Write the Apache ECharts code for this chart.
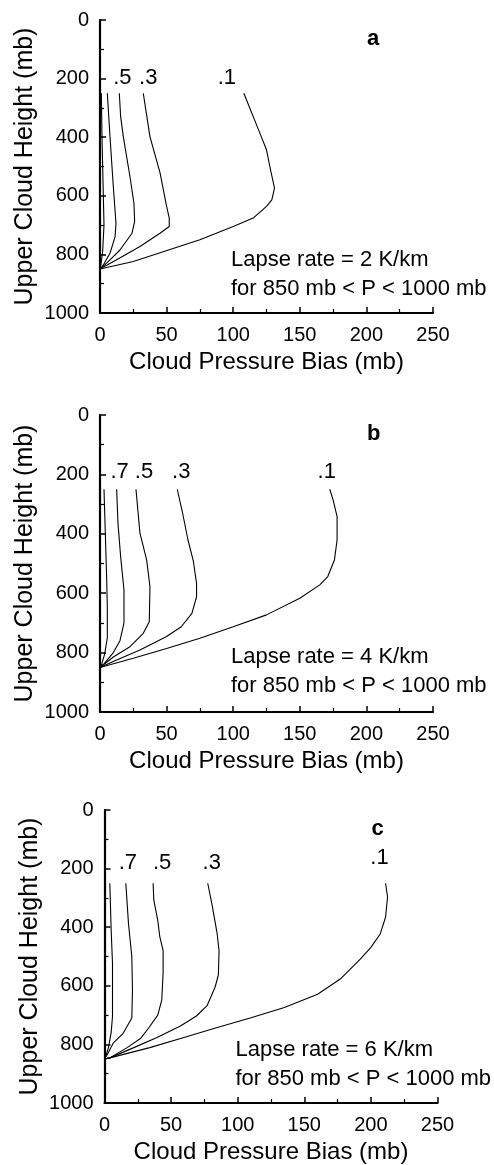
<!DOCTYPE html>
<html>
<head>
<meta charset="utf-8">
<title>Cloud Pressure Bias</title>
<script src="https://cdn.jsdelivr.net/npm/echarts@6/dist/echarts.min.js"></script>
<style>
  html, body { margin: 0; padding: 0; background: #fff; }
  #chart { width: 494px; height: 1165px; }
</style>
</head>
<body>
<div id="chart"></div>
<script>
// Cloud pressure bias (mb) against upper cloud height (mb); one curve per cloud emissivity.
const emissivityLabels = ['.1', '.3', '.5', '.7', '.9'];
const lapseRates = [2, 4, 6];
const panelLetters = ['a', 'b', 'c'];
const xTicks = [0, 50, 100, 150, 200, 250];
const yTicks = [0, 200, 400, 600, 800, 1000];

// Panel a: lapse rate 2 K/km  ([bias, height] pairs)
const a01 = [[108,250],[111,284],[117,352],[125,443],[127.5,500],[131,574],[129,614],[125,636],[115,676],[100,705],[75,750],[52,784],[25,824],[0,850]];
const a03 = [[32.5,250],[34,295],[37.5,398],[41,455],[45,520],[50,636],[52,676],[52,705],[45,728],[30,773],[12.5,818],[0,850]];
const a05 = [[14.5,250],[15.5,330],[17.5,398],[22.5,535],[25.5,626],[26,688],[24,728],[15,785],[5,830],[0,850]];
const a07 = [[5.5,250],[7.5,398],[10,569],[12,694],[11.3,740],[7.5,796],[2.5,836],[0,850]];
const a09 = [[1,250],[1.5,400],[2.5,600],[3,700],[2,790],[0.5,840],[0,850]];

// Panel b: lapse rate 4 K/km
const b01 = [[172.5,250],[175,286],[178,342],[178,421],[176,488],[171,544],[165,572],[150,617],[125,673],[100,713],[75,752],[50,786],[25,819],[0,850]];
const b03 = [[58,250],[62,330],[66,420],[70,490],[72.5,567],[72.5,612],[69,668],[61,713],[50,746],[30,791],[12.5,825],[0,850]];
const b05 = [[27,250],[30,398],[35,488],[37.5,578],[37,696],[32.5,735],[22.5,780],[10,815],[0,850]];
const b07 = [[12.5,250],[13.5,365],[15.5,477],[18,589],[18,700],[15,760],[10,800],[3,838],[0,850]];
const b09 = [[3,250],[4,400],[5,550],[5.5,650],[5.5,750],[3.5,805],[1,843],[0,850]];

// Panel c: lapse rate 6 K/km
const c01 = [[211,250],[212.5,297],[211,366],[207,423],[200,469],[192,509],[177,577],[160,629],[135,674],[110,709],[84,743],[59,777],[34,811],[4,846],[0,850]];
const c03 = [[77.5,250],[81,330],[84.5,420],[86,480],[85.5,563],[83,605],[77,668],[69,703],[57,737],[39,777],[22,811],[4,846],[0,850]];
const c05 = [[36.5,250],[37,307],[40,377],[41.5,432],[44,480],[44,557],[43,648],[40,700],[33,745],[27,780],[17,811],[4,846],[0,850]];
const c07 = [[16,250],[18,387],[20.5,500],[21,614],[20.5,710],[14,762],[6.5,796],[2,835],[0,850]];
const c09 = [[4,250],[5,410],[6,523],[6,640],[6,705],[5,760],[3,810],[1,840],[0,850]];

const panelCurves = [
  [a01, a03, a05, a07, a09],
  [b01, b03, b05, b07, b09],
  [c01, c03, c05, c07, c09]
];
// which emissivity curves carry a text label in each panel
const labelledCurves = [
  ['.1', '.3', '.5'],
  ['.1', '.3', '.5', '.7'],
  ['.1', '.3', '.5', '.7']
];

const FONT = '"Liberation Sans", Arial, Helvetica, sans-serif';

// layout of the three stacked panels
const grids = [
  { left: 100, top: 20, width: 333, height: 293 },
  { left: 100, top: 415, width: 333, height: 297 },
  { left: 104.5, top: 810, width: 333, height: 293 }
];
// placement (px) of each curve label relative to the curve top: [dx, dy]
const labelShift = [
  { '.1': [-17, -15], '.3': [5, -15], '.5': [3, -15] },
  { '.1': [-3, -17], '.3': [4, -17], '.5': [8, -17], '.7': [3, -17] },
  { '.1': [-6, -25], '.3': [4, -20], '.5': [9, -20], '.7': [2, -20] }
];

const axisLine = { onZero: false, lineStyle: { color: '#000', width: 2.2 } };
const axisTick = { inside: true, length: 6, lineStyle: { color: '#000', width: 1.5 } };
const minorTick = { show: true, splitNumber: 2, length: 4, lineStyle: { color: '#000', width: 1.2 } };
const plainNumber = v => String(v);

const xAxes = grids.map((g, i) => ({
  type: 'value', gridIndex: i, position: 'bottom',
  min: xTicks[0], max: xTicks[xTicks.length - 1], interval: 50,
  axisLine, axisTick, minorTick, splitLine: { show: false },
  axisLabel: { color: '#000', fontSize: 20, fontFamily: FONT, margin: 12, formatter: plainNumber },
  name: 'Cloud Pressure Bias (mb)', nameLocation: 'middle', nameGap: 37,
  nameTextStyle: { color: '#000', fontSize: 24, fontFamily: FONT }
}));
const yAxes = grids.map((g, i) => ({
  type: 'value', gridIndex: i, position: 'left', inverse: true,
  min: yTicks[0], max: yTicks[yTicks.length - 1], interval: 200,
  axisLine, axisTick, minorTick, splitLine: { show: false },
  axisLabel: { color: '#000', fontSize: 20, fontFamily: FONT, margin: 11, formatter: plainNumber },
  name: 'Upper Cloud Height (mb)', nameLocation: 'middle', nameGap: 62, nameMoveOverlap: false,
  nameTextStyle: { color: '#000', fontSize: 25, fontFamily: FONT }
}));

const series = [];
panelCurves.forEach((curves, p) => {
  curves.forEach((pts, k) => {
    const tag = emissivityLabels[k];
    const shift = labelShift[p][tag];
    series.push({
      type: 'line', name: tag, xAxisIndex: p, yAxisIndex: p,
      showSymbol: true, showAllSymbol: true, symbol: 'circle', symbolSize: 0.01, smooth: false,
      lineStyle: { color: '#000', width: 1.1 },
      itemStyle: { color: '#000' },
      emphasis: { disabled: true },
      label: { show: false },
      labelLayout: { hideOverlap: false },
      data: pts.map((pt, j) => j === 0 && shift ? {
        value: pt,
        label: {
          show: true, position: shift, align: 'center', verticalAlign: 'middle', formatter: tag,
          color: '#000', fontSize: 22, fontFamily: FONT
        }
      } : pt)
    });
  });
});

const graphic = [];
grids.forEach((g, p) => {
  // panel letter
  graphic.push({
    type: 'text', left: g.left + 267, top: g.top + 8,
    style: { text: panelLetters[p], font: 'bold 22px ' + FONT, fill: '#000' }
  });
  // lapse-rate note
  graphic.push({
    type: 'text', left: g.left + 131, top: g.top + 225 + (p === 1 ? 2 : 0),
    style: {
      text: 'Lapse rate = ' + lapseRates[p] + ' K/km\nfor 850 mb < P < 1000 mb',
      font: '22px ' + FONT, fill: '#000', lineHeight: 29
    }
  });
});

const chart = echarts.init(document.getElementById('chart'), null, { renderer: 'canvas' });
chart.setOption({
  backgroundColor: '#fff',
  animation: false,
  grid: grids,
  xAxis: xAxes,
  yAxis: yAxes,
  series,
  graphic
});
</script>
</body>
</html>
